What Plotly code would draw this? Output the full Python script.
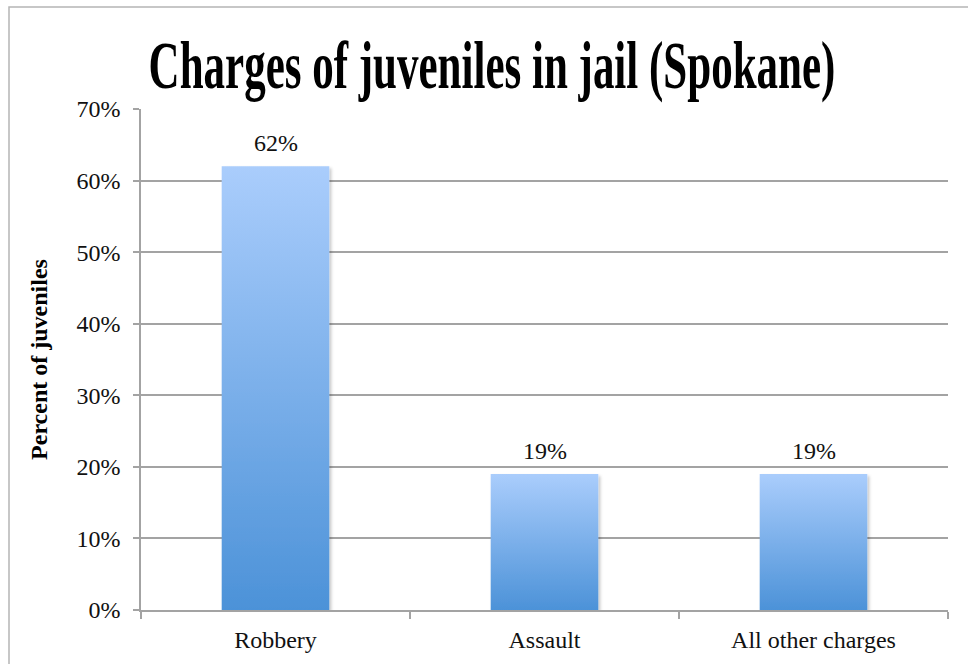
import plotly.graph_objects as go

# Data
categories = ["Robbery", "Assault", "All other charges"]
percent = [62, 19, 19]
y_ticks = [0, 10, 20, 30, 40, 50, 60, 70]
y_tick_labels = [f"{v}%" for v in y_ticks]

TITLE = "Charges of juveniles in jail (Spokane)"
Y_TITLE = "Percent of juveniles"

SERIF = "Liberation Serif"
GRID = "#a3a3a3"
BAR_TOP = "#aacdfc"
BAR_BOTTOM = "#4c92d8"
TITLE_STRETCH = 1.55  # tall, narrow title lettering

W, H = 968, 664
ML, MR, MT, MB = 141, 20, 109, 54

fig = go.Figure()
fig.add_trace(go.Bar(
    x=categories,
    y=percent,
    width=0.40,
    marker=dict(color=BAR_BOTTOM, line=dict(width=0)),
    hoverinfo="skip",
))

# value labels above bars
for c, v in zip(categories, percent):
    fig.add_annotation(
        x=c, y=v, text=f"{v}%", showarrow=False,
        yanchor="bottom", yshift=8,
        font=dict(family=SERIF, size=24, color="#111"),
    )

# chart frame (left and top edges visible in the window)
pw = W - ML - MR
ph = H - MT - MB
fig.add_shape(
    type="rect", xref="paper", yref="paper",
    x0=(9 - ML) / pw, x1=(W + 10 - ML) / pw,
    y0=-(H + 10 - MT - ph) / ph, y1=(H - MB - 7) / ph,
    line=dict(color="#b5b5b5", width=1.5), fillcolor="rgba(0,0,0,0)",
    layer="below",
)

fig.update_layout(
    width=W, height=H,
    margin=dict(l=ML, r=MR, t=MT, b=MB),
    paper_bgcolor="white", plot_bgcolor="white",
    font=dict(family=SERIF, size=24, color="#111"),
    showlegend=False,
    title=dict(
        text=f"<b>{TITLE}</b>", xref="container", x=492 / W, xanchor="center",
        y=1 - 65 / H, yanchor="middle",
        font=dict(family=SERIF, size=43, color="#000"),
    ),
    xaxis=dict(
        type="category",
        showline=True, linecolor=GRID, linewidth=1.5,
        ticks="outside", ticklen=7, tickcolor=GRID, tickwidth=1.5,
        tickson="boundaries", showgrid=False,
        tickfont=dict(family=SERIF, size=24, color="#111"),
        ticklabelstandoff=7,
    ),
    yaxis=dict(
        range=[0, 70],
        tickvals=y_ticks, ticktext=y_tick_labels,
        showline=True, linecolor=GRID, linewidth=1.5,
        ticks="outside", ticklen=6, tickcolor=GRID, tickwidth=1.5,
        showgrid=True, gridcolor=GRID, gridwidth=1.5,
        zeroline=False,
        tickfont=dict(family=SERIF, size=24, color="#111"),
        ticklabelstandoff=8,
        title=dict(text=f"<b>{Y_TITLE}</b>", standoff=22,
                   font=dict(family=SERIF, size=24, color="#000")),
    ),
)

# vertical light-to-dark fill on each bar with a soft drop shadow,
# and a vertical stretch of the title about its baseline
post = """
(function(){
  var gd = document.getElementById('{plot_id}');
  var ns = 'http://www.w3.org/2000/svg';
  function paint(){
    var svg = gd.querySelector('svg.main-svg');
    if(!svg) return;
    var defs = svg.querySelector('defs');
    if(!defs){ defs = document.createElementNS(ns,'defs'); svg.insertBefore(defs, svg.firstChild); }
    if(!svg.querySelector('#barFade')){
      var g = document.createElementNS(ns,'linearGradient');
      g.setAttribute('id','barFade');
      g.setAttribute('x1','0'); g.setAttribute('y1','0');
      g.setAttribute('x2','0'); g.setAttribute('y2','1');
      [['0','TOPC'],['1','BOTC']].forEach(function(s){
        var st = document.createElementNS(ns,'stop');
        st.setAttribute('offset', s[0]);
        st.setAttribute('stop-color', s[1]);
        g.appendChild(st);
      });
      defs.appendChild(g);
      var f = document.createElementNS(ns,'filter');
      f.setAttribute('id','barShade');
      f.setAttribute('x','-10%'); f.setAttribute('y','-10%');
      f.setAttribute('width','130%'); f.setAttribute('height','130%');
      var d = document.createElementNS(ns,'feDropShadow');
      d.setAttribute('dx','2'); d.setAttribute('dy','2');
      d.setAttribute('stdDeviation','1.5');
      d.setAttribute('flood-color','#000');
      d.setAttribute('flood-opacity','0.22');
      f.appendChild(d);
      defs.appendChild(f);
    }
    gd.querySelectorAll('.barlayer .point path').forEach(function(p){
      p.style.fill = 'url(#barFade)';
      p.setAttribute('filter','url(#barShade)');
    });
    var t = gd.querySelector('.gtitle');
    if(t){
      var y = parseFloat(t.getAttribute('y')) || 0;
      t.setAttribute('transform',
        'translate(0,' + y + ') scale(1,STRETCH) translate(0,' + (-y) + ')');
    }
  }
  paint();
  gd.on('plotly_afterplot', paint);
})();
""".replace("TOPC", BAR_TOP).replace("BOTC", BAR_BOTTOM).replace("STRETCH", str(TITLE_STRETCH))

fig.write_html("out.html", post_script=post)
